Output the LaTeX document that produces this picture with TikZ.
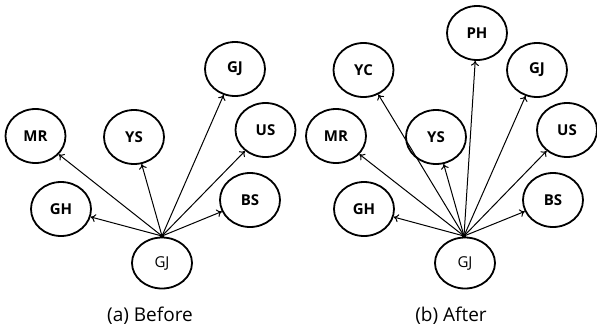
\documentclass[tikz,border=0pt]{standalone}
\usepackage{fontspec}
\setmainfont{Open Sans}
\usetikzlibrary{shapes.geometric,arrows.meta}
\tikzset{
  nd/.style={ellipse,draw,line width=1.8pt,minimum width=60pt,minimum height=54pt,inner sep=0pt,font=\fontsize{15}{17}\selectfont\bfseries},
  srcnode/.style={ellipse,draw,line width=1.8pt,minimum width=60pt,minimum height=51pt,inner sep=0pt,font=\fontsize{15}{17}\selectfont},
  con/.style={line width=1pt,-{To[length=5pt,width=8pt]}},
  captxt/.style={font=\fontsize{19}{22}\selectfont}
}
\begin{document}
\begin{tikzpicture}[x=1pt,y=-1pt]
\useasboundingbox (0,0) rectangle (597,330);
% (a) Before
\node[nd] (aGJt) at (235,69) {GJ};
\node[nd] (aMR) at (35.5,136) {MR};
\node[nd] (aYS) at (134,137) {YS};
\node[nd] (aUS) at (265.5,130) {US};
\node[nd] (aGH) at (61,209) {GH};
\node[nd] (aBS) at (250,200) {BS};
\node[srcnode] (aGJ) at (162,263) {GJ};
\coordinate (aS) at (162,236);
\fill (aS) circle (2.2pt);
\foreach \t in {aGJt,aMR,aYS,aUS,aGH,aBS} \draw[con] (aS) -- (\t);
\node[captxt] (capa) at (150,316) {(a) Before};
% (b) After
\node[nd] (bPH) at (477,33) {PH};
\node[nd] (bYC) at (363.5,70) {YC};
\node[nd] (bGJt) at (537,70) {GJ};
\node[nd] (bMR) at (336,136) {MR};
\node[nd] (bYS) at (436,137) {YS};
\node[nd] (bUS) at (567,130) {US};
\node[nd] (bGH) at (364,209) {GH};
\node[nd] (bBS) at (553,200) {BS};
\node[srcnode] (bGJ) at (465,263) {GJ};
\coordinate (bS) at (464,236);
\fill (bS) circle (2.2pt);
\foreach \t in {bPH,bYC,bGJt,bMR,bYS,bUS,bGH,bBS} \draw[con] (bS) -- (\t);
\node[captxt] (capb) at (451,316) {(b) After};
\end{tikzpicture}
\end{document}
